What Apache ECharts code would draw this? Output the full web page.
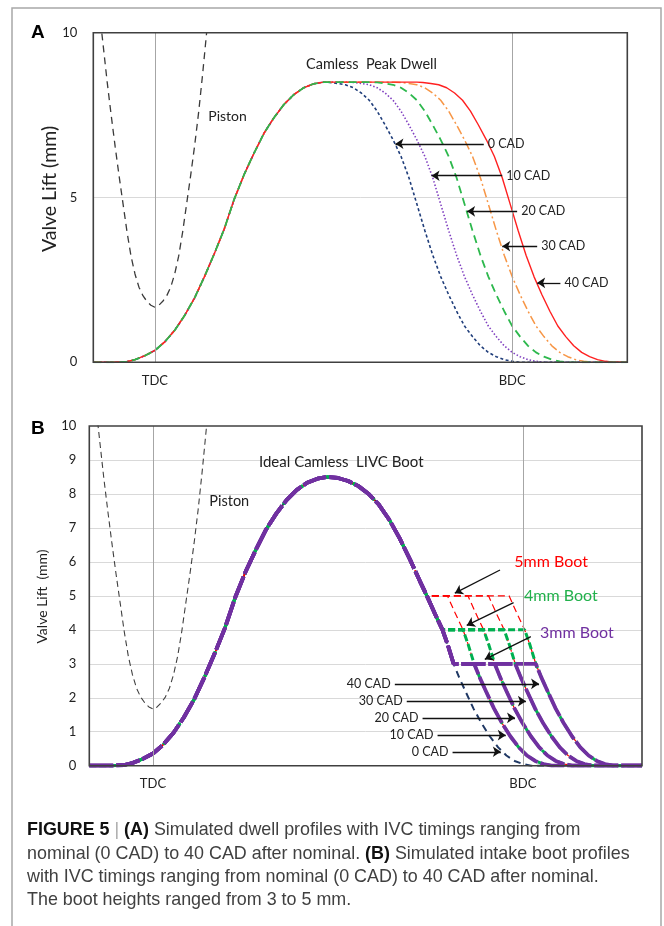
<!DOCTYPE html>
<html><head><meta charset="utf-8">
<script src="https://cdn.jsdelivr.net/npm/echarts@6/dist/echarts.min.js"></script>
<style>html,body{margin:0;padding:0;background:#fff}#c{width:664px;height:926px}</style>
</head><body><div id="c"></div>
<script>
// ---------- data (crank angle in degrees, TDC = 360, BDC = 540; lift in mm) ----------
const tickAngle = [360, 540];
const tickLabel = ['TDC', 'BDC'];

// common opening ramp (both panels)
const riseAngle = [329, 340, 346, 350, 355, 360, 365, 370, 375, 380, 385, 390, 395, 400, 405, 410, 415, 420, 425, 430, 435, 440, 445];
const riseLift  = [0, 0, 0.02, 0.08, 0.2, 0.36, 0.62, 0.97, 1.42, 1.95, 2.6, 3.3, 4.05, 4.95, 5.7, 6.35, 6.95, 7.42, 7.82, 8.12, 8.33, 8.45, 8.5];

// closing ramp, panel A (nominal, 0 CAD)
const fallAngleA = [445, 448, 452, 456, 460, 464, 468, 472, 476, 480, 484, 488, 492, 496, 500, 504, 508, 512, 516, 520, 524, 528, 532, 536, 540, 544];
const fallLiftA  = [8.5, 8.49, 8.46, 8.42, 8.33, 8.17, 7.95, 7.62, 7.2, 6.75, 6.25, 5.6, 4.8, 4.0, 3.25, 2.6, 2.05, 1.55, 1.1, 0.78, 0.5, 0.3, 0.17, 0.08, 0.03, 0];

// closing ramp, panel B (nominal, 0 CAD)
const fallAngleB = [445, 450, 455, 460, 465, 470, 475, 480, 485, 490, 493.3, 497, 500.9, 503.5, 506.3, 509, 512, 516, 520, 524, 528, 532, 536, 540, 544];
const fallLiftB  = [8.5, 8.47, 8.38, 8.23, 8.0, 7.68, 7.24, 6.7, 6.08, 5.42, 5.0, 4.5, 4.0, 3.55, 3.0, 2.6, 2.2, 1.68, 1.24, 0.86, 0.54, 0.3, 0.14, 0.05, 0];

// piston
const pistonAngle = [332, 334, 336, 338, 340, 342, 344, 346, 348, 350, 352, 354, 356, 358, 360, 362, 364, 366, 368, 370, 372, 374, 376, 378, 380, 382, 384, 386, 388];
const pistonLift  = [10.7, 9.6, 8.5, 7.5, 6.55, 5.65, 4.8, 3.95, 3.22, 2.68, 2.28, 2.02, 1.85, 1.73, 1.67, 1.73, 1.85, 2.02, 2.28, 2.68, 3.22, 3.95, 4.8, 5.65, 6.55, 7.55, 8.7, 9.95, 11.2];

// panel A: dwell timings (label) and the shift (deg)
const dwellCAD   = [0, 10, 20, 30, 40];
const dwellShift = [0, 12, 24, 36, 47];

// panel B: boot heights (mm) and IVC timings (CAD)
const bootHeight = [5, 4, 3];
const bootCAD    = [10, 20, 30, 40];

// annotation arrows (label, tail angle, tip angle, lift)
const arrowA = [
  ['0 CAD', 525.7, 481.2, 6.63],
  ['10 CAD', 535.0, 499.4, 5.66],
  ['20 CAD', 542.5, 517.3, 4.58],
  ['30 CAD', 552.6, 535.0, 3.52],
  ['40 CAD', 564.3, 552.6, 2.41]
];
const arrowB = [
  ['40 CAD', 477.7, 547.9, 2.41],
  ['30 CAD', 483.5, 541.5, 1.90],
  ['20 CAD', 491.2, 536.2, 1.41],
  ['10 CAD', 498.5, 531.7, 0.90],
  ['0 CAD', 505.8, 529.3, 0.41]
];
const bootArrow = [ // tail [angle, lift], tip [angle, lift]
  [[528.9, 5.76], [506.9, 5.08]],
  [[535.5, 4.80], [512.7, 4.13]],
  [[543.9, 3.80], [521.5, 3.13]]
];

// ---------- build ----------
const XMIN = 329, XMAX = 598;
const pts = (xs, ys, dx) => xs.map((x, i) => [x + (dx || 0), ys[i]]);
const rise = pts(riseAngle, riseLift);
function dwell(s) {
  return rise.concat(pts(fallAngleA, fallLiftA, s)).concat([[XMAX, 0]]);
}
function boot(h, s) {
  const out = rise.slice();
  fallAngleB.forEach((a, i) => { if (fallLiftB[i] >= h && a > 445) out.push([a, fallLiftB[i]]); });
  fallAngleB.forEach((a, i) => { if (fallLiftB[i] <= h) out.push([a + s, fallLiftB[i]]); });
  out.push([XMAX, 0]);
  return out;
}

const FONT = 'Lato';
const gridA = {left: 93.3, top: 32.7, width: 534, height: 329.6};
const gridB = {left: 89.3, top: 426, width: 552.7, height: 339.7};

function xAx(gi) {
  return {gridIndex: gi, type: 'value', min: XMIN, max: XMAX,
    axisLine: {show: false}, axisTick: {show: false}, splitLine: {show: false},
    axisLabel: {customValues: tickAngle, formatter: v => { const i = tickAngle.indexOf(v); return i >= 0 ? tickLabel[i] : ''; },
      color: '#222', fontSize: 13, fontFamily: FONT, margin: 12}};
}
function yAx(gi, interval, margin) {
  return {gridIndex: gi, type: 'value', min: 0, max: 10, interval: interval,
    axisLine: {show: false}, axisTick: {show: false},
    splitLine: {show: true, showMinLine: false, showMaxLine: false, lineStyle: {color: '#d9d9d9', width: 1}},
    axisLabel: {color: '#222', fontSize: 13, fontFamily: FONT, margin: margin}};
}
function line(gi, data, color, width, dash, z) {
  return {type: 'line', xAxisIndex: gi, yAxisIndex: gi, data: data, showSymbol: false, symbol: 'none',
    animation: false, silent: true, z: z || 2,
    lineStyle: {color: color, width: width, type: dash}};
}
const vLines = {silent: true, symbol: ['none', 'none'], label: {show: false},
  lineStyle: {color: '#a6a6a6', width: 1, type: 'solid'},
  data: tickAngle.map(a => ({xAxis: a}))};
function arrows(list) {
  return {silent: true, symbol: ['none', 'arrow'], symbolSize: 8, animation: false,
    lineStyle: {color: '#111', width: 1.3, type: 'solid'},
    label: {show: true, position: 'start', distance: 4, fontSize: 12.5, fontFamily: FONT, color: '#222'},
    data: list};
}

const series = [];
// Panel A
const pistonA = line(0, pts(pistonAngle, pistonLift), '#3a3a3a', 1.3, [7, 5], 3);
pistonA.markLine = vLines;
series.push(pistonA);
// style per timing: 0, 10, 20, 30, 40 CAD
const dwellStyle = [
  ['#1f3d7a', 1.6, [3, 2.5]],
  ['#8040c0', 1.6, [1.5, 2]],
  ['#2db84d', 1.8, [8, 5]],
  ['#f79646', 1.5, [9, 3, 2, 3]],
  ['#ff2020', 1.4, 'solid']
];
// drawing order so green sits on top as in the original
[0, 1, 3, 4, 2].forEach(k => {
  const st = dwellStyle[k];
  series.push(line(0, dwell(dwellShift[k]), st[0], st[1], st[2], 4));
});
const annA = line(0, [[XMIN, -1]], 'transparent', 0, 'solid', 6);
annA.markLine = arrows(arrowA.map(a => [
  {coord: [a[1], a[3]], label: {formatter: a[0]}},
  {coord: [a[2], a[3]]}
]));
series.push(annA);

// Panel B
const pistonB = line(1, pts(pistonAngle, pistonLift), '#404040', 1.1, [6, 4], 3);
pistonB.markLine = vLines;
series.push(pistonB);
series.push(line(1, rise.concat(pts(fallAngleB, fallLiftB)).concat([[XMAX, 0]]), '#1f3864', 2, [7, 5], 4));
const bootStyle = {5: ['#ff0000', 1.2, [7, 4]], 4: ['#00b050', 3, [7, 3]], 3: ['#7030a0', 3.8, [24, 3]]};
bootHeight.forEach(h => {
  bootCAD.forEach(s => {
    const st = bootStyle[h];
    series.push(line(1, boot(h, s), st[0], st[1], st[2], 4));
  });
});
const annB = line(1, [[XMIN, -1]], 'transparent', 0, 'solid', 6);
annB.markLine = arrows(arrowB.map(a => [
  {coord: [a[1], a[3]], label: {formatter: a[0]}},
  {coord: [a[2], a[3]]}
]).concat(bootArrow.map(b => [
  {coord: b[0], label: {show: false}},
  {coord: b[1]}
])));
series.push(annB);

// ---------- free text ----------
function txt(x, y, text, font, fill, align, rot) {
  return {type: 'text', x: x, y: y, rotation: rot || 0, z: 20,
    style: {text: text, font: font, fill: fill || '#222', textAlign: align || 'left', textVerticalAlign: 'middle'}};
}
const CAP = 'Liberation Sans';
const CAPSZ = 17.9;
const CAPCOL = '#404040';
const graphic = [
  {type: 'rect', shape: {x: 12, y: 8, width: 649, height: 940}, style: {fill: 'none', stroke: '#a8a8a8', lineWidth: 1.5}, z: 1},
  {type: 'rect', shape: {x: gridA.left, y: gridA.top, width: gridA.width, height: gridA.height}, style: {fill: 'none', stroke: '#404040', lineWidth: 1.6}, z: 10},
  {type: 'rect', shape: {x: gridB.left, y: gridB.top, width: gridB.width, height: gridB.height}, style: {fill: 'none', stroke: '#404040', lineWidth: 1.6}, z: 10},
  txt(31, 33, 'A', 'bold 19px Arial', '#000'),
  txt(31, 429, 'B', 'bold 19px Arial', '#000'),
  txt(50, 189, 'Valve Lift (mm)', '19.5px ' + FONT, '#222', 'center', Math.PI / 2),
  txt(42.5, 596.5, 'Valve Lift  (mm)', '14px ' + FONT, '#222', 'center', Math.PI / 2),
  txt(306, 64.7, 'Camless  Peak Dwell', '14.5px ' + FONT, '#222'),
  txt(208.3, 116.3, 'Piston', '14px ' + FONT, '#222'),
  txt(259, 461.7, 'Ideal Camless  LIVC Boot', '15px ' + FONT, '#222'),
  txt(209.3, 501.7, 'Piston', '14.5px ' + FONT, '#222'),
  txt(514.3, 561.7, '5mm Boot', '16px ' + FONT, '#ff0000'),
  txt(524, 596, '4mm Boot', '16px ' + FONT, '#22b14c'),
  txt(540, 632.7, '3mm Boot', '16px ' + FONT, '#7030a0'),
  {type: 'text', x: 27, y: 830, z: 20, style: {
    text: '{b|FIGURE 5} {g||} {b|(A)} Simulated dwell profiles with IVC timings ranging from',
    font: CAPSZ + 'px ' + CAP, fill: CAPCOL, textVerticalAlign: 'middle',
    rich: {b: {fontWeight: 'bold', fontSize: CAPSZ, fontFamily: CAP, fill: '#111'}, g: {fill: '#aaa', fontSize: CAPSZ, fontFamily: CAP}}}},
  {type: 'text', x: 27, y: 854, z: 20, style: {
    text: 'nominal (0 CAD) to 40 CAD after nominal. {b|(B)} Simulated intake boot profiles',
    font: CAPSZ + 'px ' + CAP, fill: CAPCOL, textVerticalAlign: 'middle',
    rich: {b: {fontWeight: 'bold', fontSize: CAPSZ, fontFamily: CAP, fill: '#111'}}}},
  txt(27, 877, 'with IVC timings ranging from nominal (0 CAD) to 40 CAD after nominal.', CAPSZ + 'px ' + CAP, CAPCOL),
  txt(27, 900, 'The boot heights ranged from 3 to 5 mm.', CAPSZ + 'px ' + CAP, CAPCOL)
];

const chart = echarts.init(document.getElementById('c'), null, {renderer: 'canvas'});
chart.setOption({
  backgroundColor: '#fff',
  animation: false,
  grid: [gridA, gridB],
  xAxis: [xAx(0), xAx(1)],
  yAxis: [yAx(0, 5, 16), yAx(1, 1, 13)],
  series: series,
  graphic: graphic
});
</script></body></html>
